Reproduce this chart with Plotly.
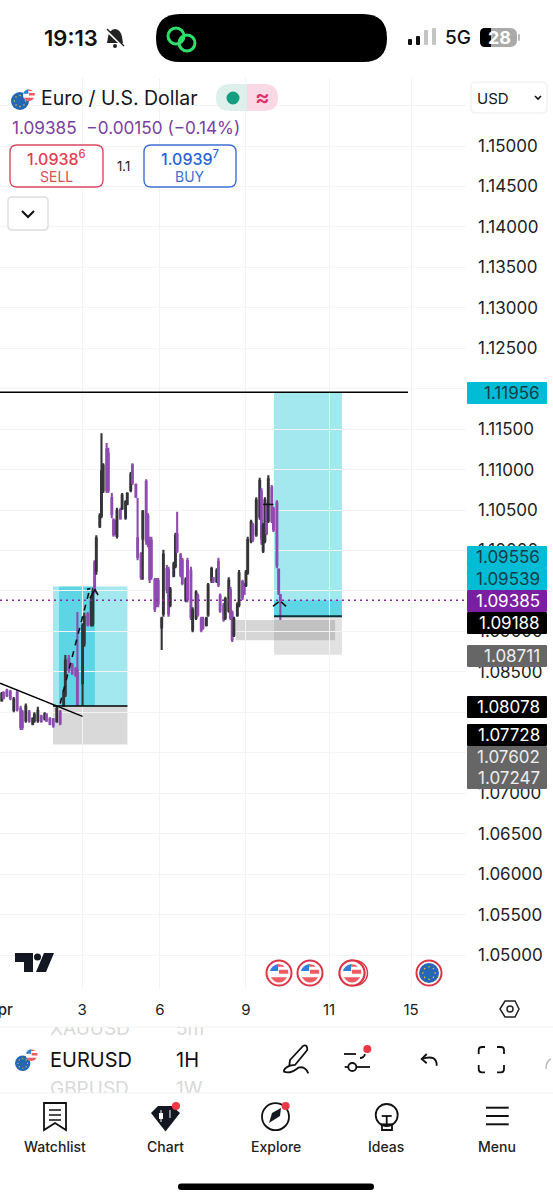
import plotly.graph_objects as go

W, H = 553, 1200

# hourly bars, x is hours from the left edge of the chart
bar_hour = [1, 2, 4, 6, 8, 10, 12, 13, 15, 17, 19, 20, 22, 24, 26, 27, 29, 31, 33, 35,
            37, 38, 40, 42, 44, 45, 48, 49, 51, 53, 54, 55, 56, 58, 59, 60, 62, 63, 65, 66,
            67, 68, 70, 71, 73, 74, 76, 77, 79, 80, 82, 83, 85, 86, 87, 88, 90, 91, 92, 94,
            95, 97, 98, 99, 101, 102, 103, 105, 106, 108, 109, 111, 112, 114, 115, 117, 118, 120, 121, 123,
            124, 126, 127, 128, 130, 131, 133, 134, 135, 136, 138, 139, 141, 142, 143, 144, 146, 147, 149, 151,
            152, 153, 154, 155, 156, 158, 159, 161, 162, 163]
bar_open = [1.0815, 1.0824, 1.0827, 1.0825, 1.0803, 1.0824, 1.0804, 1.0800, 1.0790, 1.0800, 1.0786, 1.0790, 1.0790, 1.0795, 1.0792, 1.0797, 1.0792, 1.0791, 1.0789, 1.0800,
            1.0810, 1.0822, 1.0866, 1.0858, 1.0853, 1.0852, 1.0836, 1.0885, 1.0921, 1.0909, 1.0910, 1.0985, 1.0975, 1.1030, 1.1043, 1.1074, 1.1125, 1.1120, 1.1065, 1.1037,
            1.1035, 1.1018, 1.1050, 1.1052, 1.1041, 1.1058, 1.1075, 1.1105, 1.1081, 1.1015, 1.0995, 1.1015, 1.1085, 1.1043, 1.1013, 1.1012, 1.0963, 1.0963, 1.0962, 1.0905,
            1.0922, 1.0977, 1.0976, 1.0933, 1.0969, 1.0981, 1.1020, 1.0994, 1.0988, 1.0939, 1.0987, 1.0975, 1.0902, 1.0917, 1.0944, 1.0915, 1.0915, 1.0908, 1.0921, 1.0963,
            1.0966, 1.0962, 1.0986, 1.0944, 1.0932, 1.0917, 1.0926, 1.0951, 1.0923, 1.0896, 1.0920, 1.0933, 1.0961, 1.0958, 1.0957, 1.0973, 1.1012, 1.1031, 1.1020, 1.1042,
            1.1073, 1.1000, 1.1012, 1.1056, 1.1037, 1.1078, 1.1051, 1.1059, 1.0976, 1.0945]
bar_high = [1.0825, 1.0826, 1.0829, 1.0828, 1.0819, 1.0828, 1.0808, 1.0803, 1.0811, 1.0803, 1.0794, 1.0800, 1.0807, 1.0797, 1.0800, 1.0799, 1.0794, 1.0793, 1.0807, 1.0803,
            1.0828, 1.0871, 1.0871, 1.0861, 1.0856, 1.0924, 1.0910, 1.0923, 1.0924, 1.0943, 1.0954, 1.0988, 1.1019, 1.1046, 1.1145, 1.1108, 1.1133, 1.1127, 1.1071, 1.1040,
            1.1038, 1.1053, 1.1053, 1.1071, 1.1062, 1.1072, 1.1097, 1.1108, 1.1083, 1.1065, 1.0998, 1.1050, 1.1088, 1.1046, 1.1017, 1.1017, 1.0966, 1.0966, 1.0966, 1.0918,
            1.1001, 1.0982, 1.0980, 1.0955, 1.0986, 1.1022, 1.1048, 1.0997, 1.0991, 1.0967, 1.0991, 1.0980, 1.0930, 1.0951, 1.0947, 1.0918, 1.0918, 1.0918, 1.0960, 1.0980,
            1.0967, 1.0978, 1.0991, 1.0947, 1.0935, 1.0943, 1.0967, 1.0955, 1.0926, 1.0918, 1.0936, 1.0976, 1.0964, 1.0960, 1.0976, 1.1017, 1.1038, 1.1034, 1.1066, 1.1090,
            1.1077, 1.1034, 1.1066, 1.1059, 1.1093, 1.1081, 1.1054, 1.1062, 1.0978, 1.0945]
bar_low = [1.0813, 1.0816, 1.0819, 1.0815, 1.0800, 1.0801, 1.0778, 1.0778, 1.0787, 1.0787, 1.0784, 1.0787, 1.0787, 1.0787, 1.0790, 1.0788, 1.0784, 1.0781, 1.0787, 1.0784,
           1.0807, 1.0819, 1.0849, 1.0846, 1.0844, 1.0808, 1.0808, 1.0881, 1.0906, 1.0906, 1.0906, 1.0947, 1.0970, 1.1028, 1.1040, 1.1071, 1.1071, 1.1071, 1.1040, 1.1017,
           1.1019, 1.1015, 1.1038, 1.1050, 1.1038, 1.1056, 1.1072, 1.1081, 1.1065, 1.0988, 1.0964, 1.0964, 1.1007, 1.1004, 1.0960, 1.0964, 1.0924, 1.0930, 1.0930, 1.0877,
           1.0918, 1.0947, 1.0918, 1.0930, 1.0967, 1.0978, 1.0997, 1.0967, 1.0957, 1.0936, 1.0936, 1.0914, 1.0899, 1.0914, 1.0918, 1.0899, 1.0902, 1.0906, 1.0918, 1.0960,
           1.0960, 1.0960, 1.0955, 1.0923, 1.0912, 1.0914, 1.0923, 1.0914, 1.0887, 1.0893, 1.0918, 1.0930, 1.0939, 1.0945, 1.0955, 1.0970, 1.1009, 1.1011, 1.1017, 1.1038,
           1.1007, 1.0997, 1.1009, 1.1019, 1.1034, 1.1034, 1.1023, 1.0978, 1.0945, 1.0914]
bar_close = [1.0823, 1.0818, 1.0821, 1.0818, 1.0816, 1.0804, 1.0782, 1.0782, 1.0807, 1.0790, 1.0792, 1.0797, 1.0802, 1.0789, 1.0798, 1.0790, 1.0786, 1.0784, 1.0804, 1.0787,
             1.0824, 1.0864, 1.0852, 1.0849, 1.0846, 1.0810, 1.0907, 1.0918, 1.0909, 1.0938, 1.0950, 1.0950, 1.1015, 1.1043, 1.1098, 1.1105, 1.1075, 1.1075, 1.1045, 1.1020,
             1.1021, 1.1049, 1.1040, 1.1068, 1.1060, 1.1070, 1.1094, 1.1084, 1.1067, 1.0992, 1.0967, 1.1048, 1.1012, 1.1008, 1.0965, 1.0968, 1.0928, 1.0934, 1.0935, 1.0916,
             1.0995, 1.0952, 1.0922, 1.0952, 1.0983, 1.1018, 1.1000, 1.0970, 1.0960, 1.0964, 1.0940, 1.0918, 1.0926, 1.0948, 1.0921, 1.0902, 1.0905, 1.0916, 1.0957, 1.0977,
             1.0962, 1.0975, 1.0958, 1.0926, 1.0915, 1.0940, 1.0963, 1.0917, 1.0890, 1.0915, 1.0933, 1.0972, 1.0942, 1.0947, 1.0973, 1.1013, 1.1035, 1.1014, 1.1062, 1.1086,
             1.1015, 1.1030, 1.1062, 1.1022, 1.1088, 1.1037, 1.1026, 1.0982, 1.0948, 1.09385]

last_price = 1.09385
top_level = 1.11956

# long position tools: target, entry, stop
long_a = [1.09556, 1.08078, 1.07602]
long_b = [1.11956, 1.09188, 1.08711]
zone_c = [1.0914, 1.0889]

# drawn trend line and dashed arrows
trend_x = [0, 48]
trend_y = [1.0836, 1.0795]
arrow_a_x = [35, 52]
arrow_a_y = [1.0811, 1.0951]
head_a_x = [50.5, 52.5, None, 52.3, 55.2, 57]
head_a_y = [1.0952, 1.0953, None, 1.0941, 1.0952, 1.0945]
head_b_x = [158.7, 162, None, 163.5, 166.3, None, 153, 159]
head_b_y = [1.0931, 1.09365, None, 1.09365, 1.0931, None, 1.1057, 1.1057]

tick_hours = [0, 47.7, 93, 143, 191.3, 239]
tick_days = ["", "3", "6", "9", "11", "15"]

label_prices = ["1.11956", "1.09556", "1.09539", "1.09385", "1.09188", "1.08711", "1.08078", "1.07728", "1.07602", "1.07247"]
label_ypx = [393, 557, 579, 601, 623, 656, 707, 735, 757, 778]
label_fill = ["#00BCD4", "#00BCD4", "#00BCD4", "#7B1FA2", "#000000", "#666666", "#000000", "#000000", "#666666", "#666666"]
label_ink = ["#123c48", "#123c48", "#123c48", "#ffffff", "#ffffff", "#eeeeee", "#ffffff", "#ffffff", "#eeeeee", "#eeeeee"]

wheel_text = ["XAUUSD", "5m", "GBPUSD", "1W"]
wheel_x = [50, 176, 50, 176]
wheel_y = [1030, 1030, 1090, 1090]

INK = "#131722"
GRID = "#f3f3f4"
LIGHT = "rgba(0,188,212,0.36)"
DARKER = "rgba(0,188,212,0.42)"
GREY = "rgba(128,128,128,0.30)"
FONT = "Inter"

shapes = []
notes = []


def path(d):
    # pixel path string -> paper coordinates
    out, is_x = [], True
    for tok in d.split():
        if tok.isalpha():
            out.append(tok)
            is_x = True
        else:
            v = float(tok)
            out.append(f"{v / W:.5f}" if is_x else f"{1 - v / H:.5f}")
            is_x = not is_x
    return " ".join(out)


def stroke(d, color=INK, lw=2, fill=None, layer="above"):
    shapes.append(dict(type="path", xref="paper", yref="paper", path=path(d), layer=layer,
                       line=dict(color=color, width=lw), fillcolor=fill))


def solid(d, fill):
    shapes.append(dict(type="path", xref="paper", yref="paper", path=path(d), layer="above",
                       line=dict(width=0), fillcolor=fill))


def rrect(x0, y0, x1, y1, r, fill=None, line=None, lw=1):
    d = (f"M {x0 + r} {y0} L {x1 - r} {y0} Q {x1} {y0} {x1} {y0 + r} L {x1} {y1 - r} Q {x1} {y1} {x1 - r} {y1} "
         f"L {x0 + r} {y1} Q {x0} {y1} {x0} {y1 - r} L {x0} {y0 + r} Q {x0} {y0} {x0 + r} {y0} Z")
    shapes.append(dict(type="path", xref="paper", yref="paper", path=path(d), layer="above",
                       line=dict(color=line or "rgba(0,0,0,0)", width=lw if line else 0), fillcolor=fill))


def circ(cx, cy, r, fill=None, line=None, lw=1):
    shapes.append(dict(type="circle", xref="paper", yref="paper", layer="above",
                       x0=(cx - r) / W, x1=(cx + r) / W, y0=1 - (cy + r) / H, y1=1 - (cy - r) / H,
                       fillcolor=fill, line=dict(color=line or "rgba(0,0,0,0)", width=lw if line else 0)))


def text(x, y, s, size=15, color=INK, anchor="center", weight=400):
    notes.append(dict(xref="paper", yref="paper", x=x / W, y=1 - y / H, text=s, showarrow=False,
                      xanchor=anchor, yanchor="middle", borderpad=0,
                      font=dict(family=FONT, size=size, color=color, weight=weight)))


def zone(x0, x1, p0, p1, fill):
    shapes.append(dict(type="rect", xref="x", yref="y", x0=x0, x1=x1, y0=p0, y1=p1,
                       fillcolor=fill, line=dict(width=0), layer="below"))


def level(x0, x1, p, color="#000000", lw=1.6, dash="solid"):
    shapes.append(dict(type="line", xref="x", yref="y", x0=x0, x1=x1, y0=p, y1=p,
                       line=dict(color=color, width=lw, dash=dash), layer="above"))


def eu_flag(cx, cy, r):
    circ(cx, cy, r, fill="#2468b4")
    for dx, dy in [(0, -.62), (.44, -.44), (.62, 0), (.44, .44), (0, .62), (-.44, .44), (-.62, 0), (-.44, -.44)]:
        circ(cx + dx * r, cy + dy * r, max(r * .08, .6), fill="#f4c430")


def us_flag(cx, cy, r):
    circ(cx, cy, r, fill="#ffffff")
    solid(f"M {cx - .95 * r} {cy - .2 * r} L {cx - .1 * r} {cy - .2 * r} L {cx - .1 * r} {cy - .95 * r} Q {cx - .8 * r} {cy - .8 * r} {cx - .95 * r} {cy - .2 * r} Z", "#2f80d8")
    solid(f"M {cx - .1 * r} {cy - .95 * r} L {cx + .4 * r} {cy - .85 * r} L {cx + .6 * r} {cy - .65 * r} L {cx - .1 * r} {cy - .65 * r} Z", "#ee5a62")
    solid(f"M {cx} {cy - .35 * r} L {cx + .95 * r} {cy - .35 * r} L {cx + .98 * r} {cy + .08 * r} L {cx} {cy + .08 * r} Z", "#ee5a62")
    solid(f"M {cx - .85 * r} {cy + .45 * r} L {cx + .85 * r} {cy + .45 * r} Q {cx + .5 * r} {cy + r} {cx} {cy + r} Q {cx - .5 * r} {cy + r} {cx - .85 * r} {cy + .45 * r} Z", "#ee5a62")


# position tools and levels on the chart
zone(30.8, 74.1, long_a[0], long_a[1], LIGHT)
zone(34.3, 55.2, long_a[0], long_a[1], DARKER)
zone(30.8, 74.1, long_a[1], long_a[2], GREY)
zone(159.3, 198.8, long_b[0], long_b[1], LIGHT)
zone(159.3, 198.8, last_price, long_b[1], DARKER)
zone(159.3, 198.8, long_b[1], long_b[2], "rgba(128,128,128,0.24)")
zone(137, 194.8, zone_c[0], zone_c[1], "rgba(128,128,128,0.32)")
level(0, 237.2, top_level, lw=1.5)
level(30.8, 74.1, long_a[1])
level(159.3, 198.8, long_b[1], color="#0c2f38", lw=2)
level(0, 271, last_price, color="#8E24AA", lw=1.6, dash="2px,4px")

# status bar
text(71, 38, "19:13", 22, "#111111", weight=600)
solid("M 115 29 Q 109 30 108 37 L 107 43 L 123 43 L 122 37 Q 121 30 115 29 Z", "#222222")
stroke("M 106 30 L 124 47", "#ffffff", 2.4)
stroke("M 107 29 L 124 46", "#222222", 1.5)
circ(115, 46, 2, fill="#222222")
rrect(156, 14, 387, 62, 24, fill="#000000")
circ(176, 36, 8, line="#2EE06B", lw=3)
circ(187, 43, 8, line="#2EE06B", lw=3)
rrect(408, 39, 412, 45, 1, fill="#111111")
rrect(416, 36, 420, 45, 1, fill="#111111")
rrect(424, 30, 428, 45, 1, fill="#c4c4c4")
rrect(432, 28, 436, 45, 1, fill="#c4c4c4")
text(458, 38, "5G", 19, "#111111", weight=500)
rrect(480, 28, 517, 47, 7, fill="#aaaaaa")
rrect(480, 28, 491, 47, 5, fill="#000000")
solid("M 486 28 L 491 28 L 491 47 L 486 47 Z", "#000000")
rrect(518, 34, 520, 41, 1, fill="#bbbbbb")
text(499, 38, "28", 18, "#ffffff", weight=700)

# symbol header
eu_flag(20, 101, 9)
us_flag(29, 95, 6)
text(40, 98, "Euro / U.S. Dollar", 19.5, INK, "left")
solid("M 230 84 L 247 84 L 247 111 L 230 111 Q 216 111 216 98 Q 216 84 230 84 Z", "#DDF0EC")
solid("M 247 84 L 264 84 Q 278 84 278 98 Q 278 111 264 111 L 247 111 Z", "#FBD9E4")
circ(233, 98, 6.5, fill="#149E7F")
text(262, 97, "≈", 22, "#E0306E", weight=600)
text(11, 127, "1.09385  −0.00150 (−0.14%)", 17.2, "#7B3FA0", "left")
rrect(10, 145, 103, 187, 7, fill="#ffffff", line="#D64A60", lw=1.4)
text(56, 158, "1.0938<sup>6</sup>", 16, "#E23C50", weight=500)
text(56, 176, "SELL", 14, "#DB4A5E")
text(123, 166, "1.1", 13, "#222222")
rrect(144, 145, 236, 187, 7, fill="#ffffff", line="#3F6FD0", lw=1.4)
text(190, 158, "1.0939<sup>7</sup>", 16, "#2962D8", weight=500)
text(190, 177, "BUY", 14, "#3F6FD0")
rrect(8, 197, 48, 230, 4, fill="#ffffff", line="#dddddd", lw=1.4)
stroke("M 22 211 L 28 217 L 34 211", "#111111", 2)
rrect(471, 82, 547, 113, 5, fill="#ffffff", line="#eeeeee", lw=1.2)
text(476, 98, "USD", 15, INK, "left")
stroke("M 535 96 L 538 99 L 541 96", "#111111", 1.6)

# price labels on the scale
for s, y, fill, ink in zip(label_prices, label_ypx, label_fill, label_ink):
    rrect(467, y - 11, 547, y + 11, 1, fill=fill)
    text(541, y, s, 17, ink, "right")

# logo and event markers
solid("M 15 953 L 33 953 L 33 972 L 24 972 L 24 962 L 15 962 Z", "#131722")
circ(37.5, 957, 3.5, fill="#131722")
solid("M 44 953 L 54 953 L 46 972 L 36 972 Z", "#131722")
for cx in [279, 310, 352]:
    circ(cx, 973, 12.5, fill="#ffffff", line="#DC3545", lw=2)
    us_flag(cx, 973, 9.5)
circ(355, 973, 12.5, line="#DC3545", lw=1.5)
circ(352, 973, 12.5, fill="#ffffff", line="#DC3545", lw=2)
us_flag(352, 973, 9.5)
circ(429, 973, 12.5, fill="#ffffff", line="#DC3545", lw=2)
eu_flag(429, 973, 10)

# first time label sits on the page edge
text(0, 1009, "Apr", 15, "#222222", weight=500)

# scale settings button
stroke("M 500 1009 L 505 1001 L 515 1001 L 519 1009 L 515 1017 L 505 1017 Z", "#222222", 1.5)
circ(510, 1009, 3, line="#222222", lw=1.5)

# symbol toolbar
eu_flag(22.7, 1063.3, 7.7)
us_flag(31.7, 1055, 6)
text(49, 1060, "EURUSD", 20, "#111111", "left", 400)
text(187, 1060, "1H", 20, "#111111", weight=400)
stroke("M 290 1060 L 303.3 1045.7 Q 307.3 1044 307.3 1050 L 295 1065 L 289.3 1065.7 Z", "#111111", 1.8)
stroke("M 290 1065.7 Q 283.3 1068.3 284 1071.7 Q 290 1074.3 298.3 1067.7 Q 305 1065.7 308.3 1073.3", "#111111", 1.8)
stroke("M 344 1054 L 356 1054", "#111111", 1.8)
stroke("M 360 1058 Q 364 1058 365 1054", "#111111", 1.8)
circ(367.3, 1049, 4, fill="#F23645")
circ(352.3, 1067, 4, line="#111111", lw=1.8)
stroke("M 344.7 1067 L 348 1067", "#111111", 1.8)
stroke("M 356.7 1067 L 370 1067", "#111111", 1.8)
stroke("M 426.7 1054 L 421.7 1059 L 426.7 1063.3", "#111111", 1.8)
stroke("M 421.7 1059 Q 437 1054 436.7 1065.7", "#111111", 1.8)
stroke("M 478.7 1054 L 478.7 1050 Q 478.7 1047 482 1047 L 485 1047", "#111111", 1.8)
stroke("M 497 1047 L 501 1047 Q 504 1047 504 1050 L 504 1054", "#111111", 1.8)
stroke("M 478.7 1065 L 478.7 1069 Q 478.7 1072.3 482 1072.3 L 485 1072.3", "#111111", 1.8)
stroke("M 497 1072.3 L 501 1072.3 Q 504 1072.3 504 1069 L 504 1065", "#111111", 1.8)
stroke("M 546 1069 Q 546 1061 551 1059", "#bbbbbb", 1.5)
stroke("M 0 1027 L 553 1027", "#f1f1f1", 1)
stroke("M 0 1093 L 553 1093", "#f1f1f1", 1)

# tab bar
stroke("M 44 1103 L 66 1103 L 66 1130 L 55 1123 L 44 1130 Z", "#111111", 1.8)
for y in [1110, 1115, 1120]:
    stroke(f"M 49 {y} L 61 {y}", "#111111", 1.5)
solid("M 151 1113 L 158 1106 L 172 1106 L 180 1113 L 165.5 1131.5 Z", "#131722")
stroke("M 161 1110 L 161 1122", "#ffffff", 1)
rrect(159, 1113, 163, 1119, 0.5, fill="#ffffff")
stroke("M 170 1110 L 170 1118", "#ffffff", 1)
circ(176, 1106, 4, fill="#F23645")
circ(275.5, 1116.7, 13.5, line="#111111", lw=1.8)
solid("M 269 1123 L 272 1113 L 281 1108 L 280 1116 Z", "#131722")
circ(285.6, 1106, 4, fill="#F23645")
circ(386.7, 1115, 11, line="#111111", lw=1.8)
stroke("M 381.7 1116 L 391.7 1116", "#111111", 1.8)
stroke("M 386.7 1116 L 386.7 1124", "#111111", 1.8)
stroke("M 380 1124.3 L 393.3 1124.3", "#111111", 1.8)
stroke("M 382 1125 L 382 1130 L 392 1130 L 392 1125", "#111111", 1.8)
for y in [1107.7, 1116, 1124.3]:
    stroke(f"M 486 {y} L 508.7 {y}", "#111111", 2)
for x, s in [(55, "Watchlist"), (165.5, "Chart"), (275.5, "Explore"), (386, "Ideas"), (497, "Menu")]:
    text(x, 1146, s, 14, "#222222", weight=500)
rrect(178, 1183.5, 374, 1190, 3.2, fill="#000000")

fig = go.Figure()
fig.add_trace(go.Candlestick(
    x=bar_hour, open=bar_open, high=bar_high, low=bar_low, close=bar_close,
    increasing=dict(line=dict(color="#333338", width=2.1), fillcolor="#333338"),
    decreasing=dict(line=dict(color="#8E4CB0", width=2.1), fillcolor="#8E4CB0"),
    hoverinfo="skip",
))
fig.add_trace(go.Scatter(x=trend_x, y=trend_y, mode="lines", line=dict(color="#000000", width=1.6), hoverinfo="skip"))
fig.add_trace(go.Scatter(x=arrow_a_x, y=arrow_a_y, mode="lines", line=dict(color="#111111", width=1.6, dash="6px,6px"), hoverinfo="skip"))
fig.add_trace(go.Scatter(x=head_a_x, y=head_a_y, mode="lines", line=dict(color="#111111", width=1.6), hoverinfo="skip"))
fig.add_trace(go.Scatter(x=head_b_x, y=head_b_y, mode="lines", line=dict(color="#111111", width=1.5), hoverinfo="skip"))
# symbol wheel rows, cut off by the strip between the separators
fig.add_trace(go.Scatter(x=wheel_x, y=wheel_y, text=wheel_text, mode="text", textposition="middle right",
                         textfont=dict(family=FONT, size=19, color="#d9d9d9"), cliponaxis=True,
                         xaxis="x2", yaxis="y2", hoverinfo="skip"))

fig.update_layout(
    width=W, height=H, margin=dict(l=0, r=0, t=0, b=0),
    paper_bgcolor="#ffffff", plot_bgcolor="#ffffff",
    font=dict(family=FONT, color="#222222"),
    showlegend=False, shapes=shapes, annotations=notes,
    xaxis=dict(domain=[0, 466 / W], range=[0, 466 / 1.72], rangeslider=dict(visible=False),
               tickmode="array", tickvals=tick_hours, ticktext=tick_days, showgrid=True, gridcolor=GRID,
               zeroline=False, ticks="", tickfont=dict(size=15, color="#222222"), ticklabelstandoff=10),
    yaxis=dict(domain=[1 - 989 / H, 1 - 78 / H], range=[1.0458, 1.15841], side="right",
               tick0=1.05, dtick=0.005, tickformat=".5f", showgrid=True, gridcolor=GRID,
               zeroline=False, ticks="", tickfont=dict(size=17, color="#222222"), ticklabelstandoff=11),
    xaxis2=dict(domain=[0, 1], range=[0, W], anchor="y2", visible=False),
    yaxis2=dict(domain=[1 - 1093 / H, 1 - 1027 / H], range=[1093, 1027], anchor="x2", visible=False),
)

fig.write_html("out.html", post_script="document.body.style.margin='0'", config=dict(displayModeBar=False))
